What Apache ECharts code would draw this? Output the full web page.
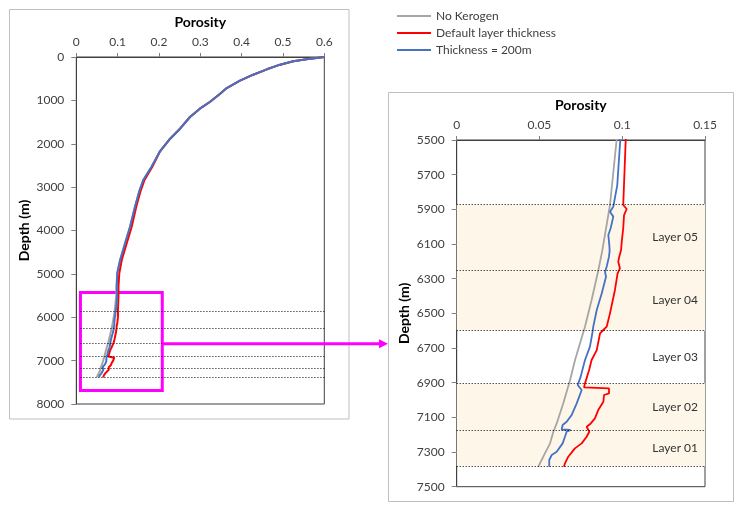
<!DOCTYPE html>
<html>
<head>
<meta charset="utf-8">
<script src="https://cdn.jsdelivr.net/npm/echarts@6/dist/echarts.min.js"></script>
<style>html,body{margin:0;padding:0;background:#fff}#c{width:740px;height:510px}</style>
</head>
<body>
<div id="c"></div>
<script>
// ---- data ----
const seriesNames = ['No Kerogen', 'Default layer thickness', 'Thickness = 200m'];
const seriesColors = ['#A6A6A6', '#FF0000', '#4472C4'];

const noKerogenDepth = [0,53,99,177,284,408,546,715,846,1037,1191,1383,1653,1883,2174,2529,2835,3105,3451,3912,4295,4680,4986,5295,5450,5500,5875,6135,6250,6423,6577,6673,6769,6885,7019,7135,7183,7250,7327,7385];
const noKerogenPor   = [0.600,0.557,0.525,0.493,0.461,0.428,0.396,0.364,0.348,0.323,0.299,0.275,0.251,0.227,0.2025,0.182,0.162,0.152,0.142,0.130,0.118,0.106,0.099,0.097,0.097,0.0966,0.0926,0.0880,0.0856,0.0815,0.0775,0.0745,0.0715,0.0685,0.0644,0.0604,0.0584,0.0564,0.0523,0.0493];

const defaultDepth = [0,53,99,177,284,408,546,715,846,1037,1191,1383,1653,1883,2174,2529,2835,3105,3451,3912,4295,4680,4986,5295,5450,5500,5875,5898,5933,6009,6087,6135,6173,6202,6240,6269,6365,6500,6577,6596,6615,6712,6769,6827,6904,6927,6933,6962,6971,7010,7058,7106,7135,7154,7183,7212,7250,7279,7327,7365,7385];
const defaultPor   = [0.600,0.557,0.525,0.493,0.461,0.428,0.396,0.364,0.348,0.323,0.299,0.275,0.251,0.227,0.2025,0.184,0.165,0.155,0.145,0.134,0.122,0.110,0.104,0.102,0.102,0.1021,0.1006,0.1027,0.1011,0.1006,0.0997,0.0993,0.0982,0.0976,0.0986,0.0972,0.0956,0.0926,0.0906,0.0886,0.0866,0.0846,0.0815,0.0800,0.0775,0.0769,0.0920,0.0920,0.0890,0.0886,0.0855,0.0835,0.0810,0.0785,0.0801,0.0785,0.0755,0.0714,0.0674,0.0654,0.0648];

const thick200Depth = [0,53,99,177,284,408,546,715,846,1037,1191,1383,1653,1883,2174,2529,2835,3105,3451,3912,4295,4680,4986,5295,5450,5500,5760,5885,5914,5942,6009,6048,6106,6140,6173,6231,6260,6289,6385,6481,6577,6606,6692,6769,6865,6913,6942,7019,7087,7125,7144,7170,7173,7183,7212,7250,7298,7317,7346,7385];
const thick200Por   = [0.600,0.557,0.525,0.493,0.461,0.428,0.396,0.364,0.348,0.323,0.299,0.275,0.251,0.227,0.2025,0.182,0.162,0.152,0.142,0.130,0.118,0.106,0.099,0.098,0.098,0.0988,0.0970,0.0946,0.0926,0.0946,0.0930,0.0916,0.0922,0.0924,0.0920,0.0906,0.0896,0.0902,0.0876,0.0846,0.0825,0.0821,0.0805,0.0775,0.0749,0.0731,0.0755,0.0725,0.0694,0.0664,0.0640,0.0634,0.0688,0.0664,0.0654,0.0640,0.0604,0.0574,0.0559,0.0559];

const layerBounds = [5870, 6250, 6600, 6905, 7175, 7380];
const layerNames = ['Layer 05', 'Layer 04', 'Layer 03', 'Layer 02', 'Layer 01'];
const layerShaded = [true, true, false, true, true];

const leftPorTicks = [0, 0.1, 0.2, 0.3, 0.4, 0.5, 0.6];
const leftDepthTicks = [0,1000,2000,3000,4000,5000,6000,7000,8000];
const rightPorTicks = [0, 0.05, 0.1, 0.15];
const rightDepthTicks = [5500,5700,5900,6100,6300,6500,6700,6900,7100,7300,7500];

// zoom box on the overview chart (data coords)
const zoomBox = [[0.01, 5430], [0.208, 7690]];
const arrowDepth = 6610;

// ---- chart ----
const depthSets = [noKerogenDepth, defaultDepth, thick200Depth];
const porSets = [noKerogenPor, defaultPor, thick200Por];
const pairs = porSets.map((p, k) => p.map((v, i) => [v, depthSets[k][i]]));

const FONT = 'Lato';
const labelColor = '#404040';
const plain = v => String(v);

function xAx(grid, min, max, ticks) {
  return {
    type: 'value', gridIndex: grid, position: 'top', min: min, max: max,
    name: 'Porosity', nameLocation: 'middle', nameGap: 28,
    nameTextStyle: {fontFamily: FONT, fontWeight: 'bold', fontSize: 14, color: '#000'},
    axisLine: {show: true, lineStyle: {color: '#404040', width: 1}},
    axisTick: {show: true, inside: false, length: 4, lineStyle: {color: '#808080'}, customValues: ticks},
    axisLabel: {fontFamily: FONT, fontSize: 12, color: labelColor, margin: 9, customValues: ticks, formatter: plain},
    splitLine: {show: false}
  };
}
function yAx(grid, min, max, ticks) {
  return {
    type: 'value', gridIndex: grid, inverse: true, min: min, max: max,
    name: 'Depth (m)', nameLocation: 'middle', nameGap: 45,
    nameTextStyle: {fontFamily: FONT, fontWeight: 'bold', fontSize: 14, color: '#000'},
    axisLine: {show: true, lineStyle: {color: '#404040', width: 1}},
    axisTick: {show: true, inside: false, length: 5, lineStyle: {color: '#808080'}, customValues: ticks},
    axisLabel: {fontFamily: FONT, fontSize: 12, color: labelColor, margin: 12, customValues: ticks, formatter: plain},
    splitLine: {show: false}
  };
}

const series = [];
for (let g = 0; g < 2; g++) {
  for (let k = 0; k < 3; k++) {
    const s = {
      type: 'line', name: seriesNames[k], xAxisIndex: g, yAxisIndex: g,
      data: pairs[k], showSymbol: false, symbol: 'none', clip: true,
      lineStyle: {color: seriesColors[k], width: g === 0 ? 2 : 1.8},
      itemStyle: {color: seriesColors[k]}, silent: true, animation: false
    };
    if (k === 0) {
      s.markLine = {
        silent: true, symbol: 'none', animation: false,
        label: {show: false},
        lineStyle: {color: '#000', type: [1, 2], width: 1},
        data: layerBounds.map(d => g === 0
          ? [{coord: [zoomBox[0][0], d]}, {coord: [0.6, d]}]
          : [{xAxis: 0, yAxis: d}, {xAxis: 0.15, yAxis: d}])
      };
      if (g === 1) {
        s.markArea = {
          silent: true, animation: false,
          label: {show: true, position: 'insideRight', distance: 7, fontFamily: FONT, fontSize: 12, color: '#333'},
          data: layerNames.map((n, i) => [
            {name: n, yAxis: layerBounds[i], itemStyle: {color: layerShaded[i] ? '#FDF6E9' : 'rgba(0,0,0,0)'}},
            {yAxis: layerBounds[i + 1]}
          ])
        };
      }
    }
    if (g === 0 && k === 2) {
      s.markArea = {
        silent: true, animation: false, label: {show: false},
        itemStyle: {color: 'rgba(0,0,0,0)', borderColor: '#FF00FF', borderWidth: 3},
        data: [[{coord: zoomBox[0]}, {coord: zoomBox[1]}]]
      };
    }
    series.push(s);
  }
}

const chart = echarts.init(document.getElementById('c'), null, {renderer: 'canvas'});
chart.setOption({
  backgroundColor: '#fff',
  animation: false,
  textStyle: {fontFamily: FONT},
  legend: {
    data: seriesNames, orient: 'vertical', left: 397, top: 9, padding: 0,
    icon: 'rect', itemWidth: 34, itemHeight: 2, itemGap: 3,
    textStyle: {fontFamily: FONT, fontSize: 12, color: '#404040', lineHeight: 14},
    selectedMode: false
  },
  grid: [
    {left: 76.3, top: 57, width: 248, height: 347, show: true, borderColor: '#404040', borderWidth: 1, backgroundColor: 'transparent'},
    {left: 456.7, top: 140, width: 248.3, height: 346.7, show: true, borderColor: '#404040', borderWidth: 1, backgroundColor: 'transparent'}
  ],
  xAxis: [xAx(0, 0, 0.6, leftPorTicks), xAx(1, 0, 0.15, rightPorTicks)],
  yAxis: [yAx(0, 0, 8000, leftDepthTicks), yAx(1, 5500, 7500, rightDepthTicks)],
  series: series
});

// frames and connecting arrow
const p0 = chart.convertToPixel({xAxisIndex: 0, yAxisIndex: 0}, [zoomBox[1][0], arrowDepth]);
const tipX = 388;
chart.setOption({
  graphic: [
    {type: 'rect', shape: {x: 9.5, y: 9.5, width: 339.5, height: 409.5}, style: {fill: 'none', stroke: '#BFBFBF', lineWidth: 1}, silent: true, z: -1},
    {type: 'rect', shape: {x: 388.5, y: 92.5, width: 345, height: 409}, style: {fill: 'none', stroke: '#BFBFBF', lineWidth: 1}, silent: true, z: -1},
    {type: 'line', shape: {x1: p0[0], y1: p0[1], x2: tipX - 7, y2: p0[1]}, style: {stroke: '#FF00FF', lineWidth: 3}, silent: true, z: 10},
    {type: 'polygon', shape: {points: [[tipX, p0[1]], [tipX - 9, p0[1] - 4.5], [tipX - 9, p0[1] + 4.5]]}, style: {fill: '#FF00FF'}, silent: true, z: 10}
  ]
});
</script>
</body>
</html>
